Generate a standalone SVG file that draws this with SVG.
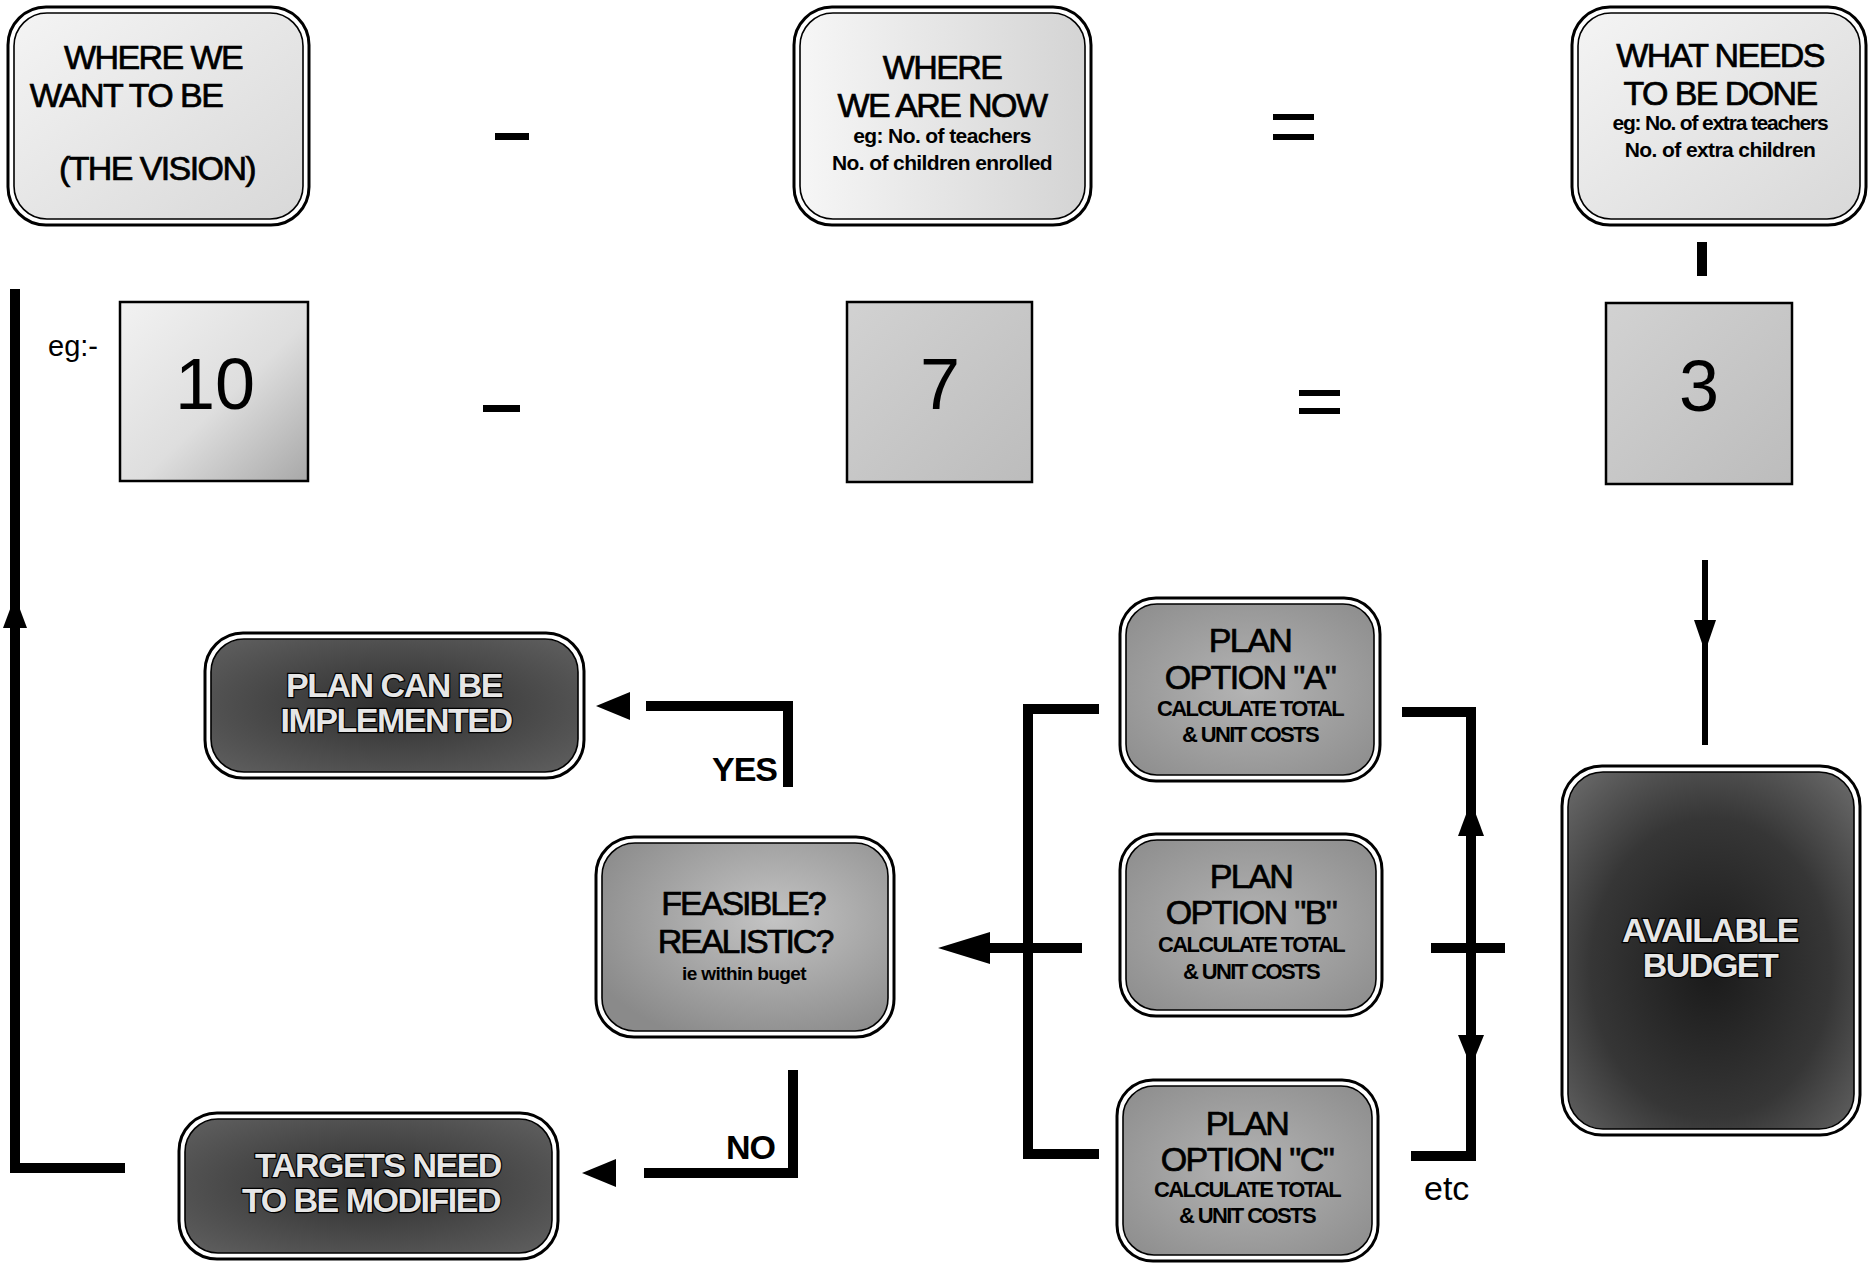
<svg xmlns="http://www.w3.org/2000/svg" width="1869" height="1264" viewBox="0 0 1869 1264">
<style>
.outer{fill:#fff;stroke:#000;stroke-width:3}
.inner{stroke:#000;stroke-width:1.6}
.sq{stroke:#000;stroke-width:2.5}
.t{font-family:"Liberation Sans",Arial,sans-serif;fill:#000;text-anchor:middle}
.big{font-size:34px;letter-spacing:-1.6px;stroke:#000;stroke-width:0.7px}
.sm{font-size:21px;font-weight:bold;letter-spacing:-0.6px}
.calc{font-size:22px;font-weight:bold;letter-spacing:-1.6px}
.num{font-size:72px}
.hol{font-family:"Liberation Sans",Arial,sans-serif;font-size:34px;font-weight:bold;letter-spacing:-1.5px;fill:#e6e6e6;stroke:#000;stroke-width:2.4px;paint-order:stroke;text-anchor:middle}
.lbl{font-family:"Liberation Sans",Arial,sans-serif;font-size:34px;font-weight:bold;letter-spacing:-1px;fill:#000}
.bar{fill:none;stroke:#000;stroke-width:10;stroke-linecap:butt;stroke-linejoin:miter}
.thin{fill:none;stroke:#000;stroke-width:6}
.ah{fill:#000}
</style>
<defs>
<linearGradient id="gLight" x1="0" y1="0" x2="1" y2="1"><stop offset="0" stop-color="#f4f4f4"/><stop offset="1" stop-color="#d8d8d8"/></linearGradient>
<linearGradient id="gLight2" x1="0" y1="0" x2="1" y2="0"><stop offset="0" stop-color="#f6f6f6"/><stop offset="1" stop-color="#d4d4d4"/></linearGradient>
<linearGradient id="gTen" x1="0" y1="0" x2="1" y2="1"><stop offset="0" stop-color="#f2f2f2"/><stop offset="0.55" stop-color="#dedede"/><stop offset="1" stop-color="#a8a8a8"/></linearGradient>
<linearGradient id="gNum" x1="0" y1="0" x2="1" y2="1"><stop offset="0" stop-color="#d2d2d2"/><stop offset="1" stop-color="#bcbcbc"/></linearGradient>
<radialGradient id="gMid" cx="0.5" cy="0.5" r="0.7"><stop offset="0" stop-color="#b4b4b4"/><stop offset="1" stop-color="#8c8c8c"/></radialGradient>
<radialGradient id="gFeas" cx="0.6" cy="0.4" r="0.7"><stop offset="0" stop-color="#c4c4c4"/><stop offset="1" stop-color="#8a8a8a"/></radialGradient>
<radialGradient id="gDark" cx="0.5" cy="0.5" r="0.7"><stop offset="0" stop-color="#2e2e2e"/><stop offset="1" stop-color="#606060"/></radialGradient>
<radialGradient id="gBud" cx="0.5" cy="0.55" r="0.7"><stop offset="0" stop-color="#1a1a1a"/><stop offset="0.6" stop-color="#363636"/><stop offset="1" stop-color="#666"/></radialGradient>
</defs>

<g id="vision">
<rect class="outer" x="8" y="7" width="301" height="218" rx="38"/>
<rect class="inner" x="14" y="13" width="289" height="206" rx="33" fill="url(#gLight)"/>
<text class="t big" x="153" y="69">WHERE WE</text>
<text class="t big" x="126" y="107">WANT TO BE</text>
<text class="t big" x="157" y="180">(THE VISION)</text>
</g>

<g id="now">
<rect class="outer" x="794" y="7" width="297" height="218" rx="38"/>
<rect class="inner" x="800" y="13" width="285" height="206" rx="33" fill="url(#gLight2)"/>
<text class="t big" x="942" y="79">WHERE</text>
<text class="t big" x="942" y="117">WE ARE NOW</text>
<text class="t sm" x="942" y="143">eg:  No. of teachers</text>
<text class="t sm" x="942" y="170">No. of children enrolled</text>
</g>

<g id="todo">
<rect class="outer" x="1572" y="7" width="294" height="218" rx="38"/>
<rect class="inner" x="1578" y="13" width="282" height="206" rx="33" fill="url(#gLight)"/>
<text class="t big" x="1720" y="67">WHAT NEEDS</text>
<text class="t big" x="1720" y="105">TO BE DONE</text>
<text class="t sm" x="1720" y="130" style="letter-spacing:-1.2px">eg: No. of extra teachers</text>
<text class="t sm" x="1720" y="157">No. of extra children</text>
</g>

<g id="ops" fill="#000">
<rect x="495" y="133" width="34" height="7"/>
<rect x="1273" y="114" width="41" height="6"/>
<rect x="1273" y="134" width="41" height="6"/>
<rect x="483" y="405" width="37" height="7"/>
<rect x="1299" y="390" width="41" height="6"/>
<rect x="1299" y="408" width="41" height="6"/>
<text class="t" x="48" y="356" style="font-size:29px;text-anchor:start">eg:-</text>
</g>

<g id="n10">
<rect class="sq" x="120" y="302" width="188" height="179" fill="url(#gTen)"/>
<text class="t num" x="215" y="409">10</text>
</g>
<g id="n7">
<rect class="sq" x="847" y="302" width="185" height="180" fill="url(#gNum)"/>
<text class="t num" x="940" y="409">7</text>
</g>
<g id="n3">
<rect class="sq" x="1606" y="303" width="186" height="181" fill="url(#gNum)"/>
<text class="t num" x="1699" y="411">3</text>
</g>

<g id="optA">
<rect class="outer" x="1120" y="598" width="260" height="183" rx="36"/>
<rect class="inner" x="1126" y="604" width="248" height="171" rx="31" fill="url(#gMid)"/>
<text class="t big" x="1250" y="652">PLAN</text>
<text class="t big" x="1250" y="689">OPTION "A"</text>
<text class="t calc" x="1250" y="716">CALCULATE TOTAL</text>
<text class="t calc" x="1250" y="742">&amp; UNIT COSTS</text>
</g>
<g id="optB">
<rect class="outer" x="1120" y="834" width="262" height="182" rx="36"/>
<rect class="inner" x="1126" y="840" width="250" height="170" rx="31" fill="url(#gMid)"/>
<text class="t big" x="1251" y="888">PLAN</text>
<text class="t big" x="1251" y="924">OPTION "B"</text>
<text class="t calc" x="1251" y="952">CALCULATE TOTAL</text>
<text class="t calc" x="1251" y="979">&amp; UNIT COSTS</text>
</g>
<g id="optC">
<rect class="outer" x="1117" y="1080" width="261" height="181" rx="36"/>
<rect class="inner" x="1123" y="1086" width="249" height="169" rx="31" fill="url(#gMid)"/>
<text class="t big" x="1247" y="1135">PLAN</text>
<text class="t big" x="1247" y="1171">OPTION "C"</text>
<text class="t calc" x="1247" y="1197">CALCULATE TOTAL</text>
<text class="t calc" x="1247" y="1223">&amp; UNIT COSTS</text>
</g>

<g id="budget">
<rect class="outer" x="1562" y="766" width="298" height="369" rx="40"/>
<rect class="inner" x="1568" y="772" width="286" height="357" rx="35" fill="url(#gBud)"/>
<text class="hol" x="1710" y="942">AVAILABLE</text>
<text class="hol" x="1710" y="977">BUDGET</text>
</g>

<g id="feasible">
<rect class="outer" x="596" y="837" width="298" height="200" rx="38"/>
<rect class="inner" x="602" y="843" width="286" height="188" rx="33" fill="url(#gFeas)"/>
<text class="t big" x="743" y="915" style="letter-spacing:-2px">FEASIBLE?</text>
<text class="t big" x="745" y="953" style="letter-spacing:-2px">REALISTIC?</text>
<text class="t sm" x="744" y="980" style="font-size:19px">ie within buget</text>
</g>

<g id="implement">
<rect class="outer" x="205" y="633" width="379" height="145" rx="38"/>
<rect class="inner" x="211" y="639" width="367" height="133" rx="33" fill="url(#gDark)"/>
<text class="hol" x="394" y="697">PLAN CAN BE</text>
<text class="hol" x="396" y="732">IMPLEMENTED</text>
</g>

<g id="modify">
<rect class="outer" x="179" y="1113" width="379" height="146" rx="38"/>
<rect class="inner" x="185" y="1119" width="367" height="134" rx="33" fill="url(#gDark)"/>
<text class="hol" x="378" y="1177">TARGETS NEED</text>
<text class="hol" x="371" y="1212">TO BE MODIFIED</text>
</g>

<g id="connectors">
<rect x="1697" y="242" width="10" height="34" fill="#000"/>
<path class="bar" d="M125 1168 H15 V289"/>
<polygon class="ah" points="15,596 3,628 27,628"/>
<line class="thin" x1="1705" y1="560" x2="1705" y2="745"/>
<polygon class="ah" points="1705,652 1694,620 1716,620"/>
<path class="bar" d="M1099 709 H1028 V1154 H1099"/>
<line class="bar" x1="988" y1="948" x2="1082" y2="948"/>
<polygon class="ah" points="938,948 990,932 990,964"/>
<path class="bar" d="M1402 712 H1471 V1156 H1411"/>
<line class="bar" x1="1431" y1="948" x2="1505" y2="948"/>
<polygon class="ah" points="1471,801 1458,836 1484,836"/>
<polygon class="ah" points="1471,1067 1458,1035 1484,1035"/>
<path class="bar" d="M646 706 H788 V787"/>
<polygon class="ah" points="596,706 630,692 630,720"/>
<path class="bar" d="M793 1070 V1173 H644"/>
<polygon class="ah" points="582,1173 616,1159 616,1187"/>
<text class="lbl" x="777" y="781" text-anchor="end">YES</text>
<text class="lbl" x="775" y="1159" text-anchor="end">NO</text>
<text class="t" x="1424" y="1200" style="font-size:34px;text-anchor:start">etc</text>
</g>
</svg>
